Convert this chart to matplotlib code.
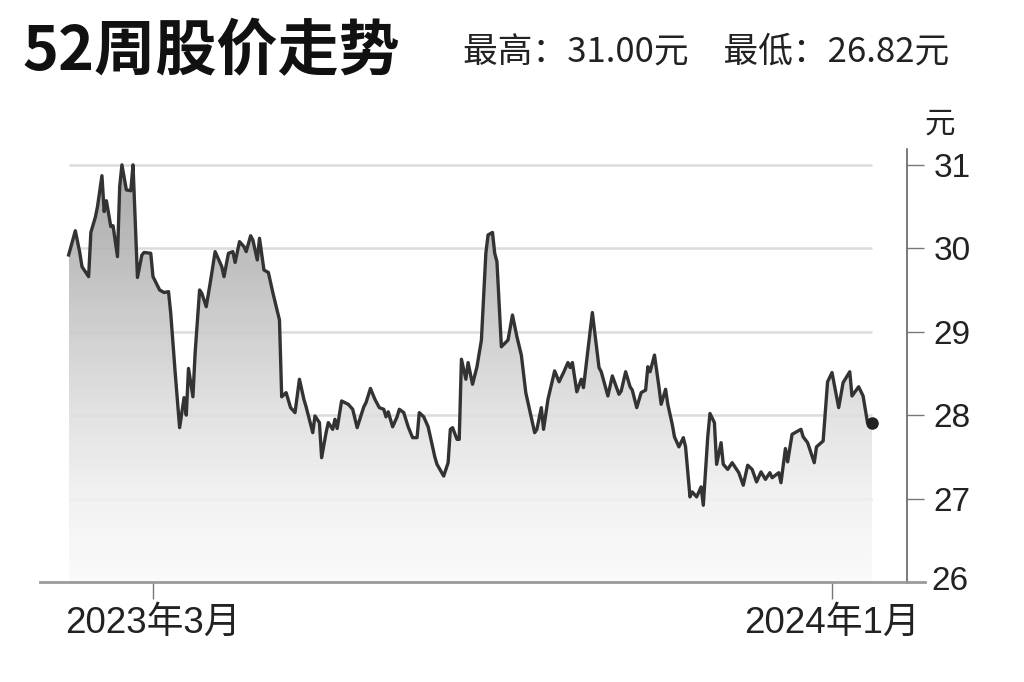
import numpy as np
import pandas as pd
import matplotlib
matplotlib.use('Agg')
import matplotlib.pyplot as plt
import matplotlib.dates as mdates
from matplotlib.colors import LinearSegmentedColormap
from matplotlib.lines import Line2D

## Fonts

plt.rcParams['font.family'] = ['Liberation Sans', 'Noto Sans CJK SC', 'DejaVu Sans']

## Data (daily closing price, yuan)

dates = [
    '2023-01-22', '2023-01-25', '2023-01-27', '2023-01-28', '2023-01-31', '2023-02-01', '2023-02-03', '2023-02-04', '2023-02-06', '2023-02-07',
    '2023-02-08', '2023-02-10', '2023-02-11', '2023-02-13', '2023-02-14', '2023-02-15', '2023-02-17', '2023-02-19', '2023-02-20', '2023-02-22',
    '2023-02-24', '2023-02-25', '2023-02-28', '2023-03-01', '2023-03-04', '2023-03-06', '2023-03-08', '2023-03-09', '2023-03-11', '2023-03-13',
    '2023-03-15', '2023-03-16', '2023-03-17', '2023-03-19', '2023-03-20', '2023-03-22', '2023-03-23', '2023-03-25', '2023-03-27', '2023-03-29',
    '2023-03-31', '2023-04-01', '2023-04-02', '2023-04-04', '2023-04-06', '2023-04-07', '2023-04-09', '2023-04-11', '2023-04-12', '2023-04-14',
    '2023-04-15', '2023-04-17', '2023-04-18', '2023-04-20', '2023-04-22', '2023-04-24', '2023-04-27', '2023-04-28', '2023-04-30', '2023-05-02',
    '2023-05-04', '2023-05-06', '2023-05-08', '2023-05-09', '2023-05-12', '2023-05-13', '2023-05-15', '2023-05-16', '2023-05-18', '2023-05-19',
    '2023-05-21', '2023-05-22', '2023-05-23', '2023-05-25', '2023-05-28', '2023-05-30', '2023-06-01', '2023-06-04', '2023-06-05', '2023-06-07',
    '2023-06-09', '2023-06-11', '2023-06-13', '2023-06-14', '2023-06-15', '2023-06-17', '2023-06-19', '2023-06-20', '2023-06-22', '2023-06-24',
    '2023-06-26', '2023-06-28', '2023-06-29', '2023-07-01', '2023-07-03', '2023-07-06', '2023-07-07', '2023-07-10', '2023-07-12', '2023-07-13',
    '2023-07-14', '2023-07-16', '2023-07-17', '2023-07-18', '2023-07-20', '2023-07-21', '2023-07-23', '2023-07-25', '2023-07-27', '2023-07-29',
    '2023-07-30', '2023-08-01', '2023-08-02', '2023-08-03', '2023-08-05', '2023-08-08', '2023-08-10', '2023-08-12', '2023-08-14', '2023-08-16',
    '2023-08-18', '2023-08-20', '2023-08-21', '2023-08-23', '2023-08-24', '2023-08-26', '2023-08-29', '2023-08-31', '2023-09-02', '2023-09-04',
    '2023-09-05', '2023-09-06', '2023-09-08', '2023-09-10', '2023-09-11', '2023-09-15', '2023-09-18', '2023-09-19', '2023-09-22', '2023-09-24',
    '2023-09-27', '2023-09-28', '2023-09-30', '2023-10-02', '2023-10-03', '2023-10-05', '2023-10-07', '2023-10-09', '2023-10-10', '2023-10-11',
    '2023-10-13', '2023-10-15', '2023-10-16', '2023-10-18', '2023-10-19', '2023-10-21', '2023-10-22', '2023-10-24', '2023-10-26', '2023-10-27',
    '2023-10-29', '2023-10-30', '2023-11-01', '2023-11-03', '2023-11-04', '2023-11-06', '2023-11-07', '2023-11-09', '2023-11-10', '2023-11-12',
    '2023-11-13', '2023-11-15', '2023-11-17', '2023-11-20', '2023-11-22', '2023-11-24', '2023-11-26', '2023-11-28', '2023-11-30', '2023-12-02',
    '2023-12-04', '2023-12-05', '2023-12-08', '2023-12-09', '2023-12-11', '2023-12-12', '2023-12-14', '2023-12-18', '2023-12-19', '2023-12-21',
    '2023-12-24', '2023-12-25', '2023-12-28', '2023-12-30', '2024-01-01', '2024-01-04', '2024-01-06', '2024-01-09', '2024-01-10', '2024-01-13',
    '2024-01-15', '2024-01-17', '2024-01-19',
]

prices = [
    29.92, 30.21, 29.95, 29.78, 29.66, 30.19, 30.37, 30.50, 30.87, 30.44,
    30.57, 30.26, 30.27, 29.90, 30.74, 31.00, 30.70, 30.69, 31.00, 29.65,
    29.92, 29.95, 29.94, 29.66, 29.50, 29.47, 29.48, 29.22, 28.51, 27.85,
    28.21, 28.00, 28.56, 28.22, 28.75, 29.50, 29.46, 29.30, 29.62, 29.96,
    29.84, 29.78, 29.66, 29.94, 29.96, 29.83, 30.08, 30.02, 29.96, 30.15,
    30.10, 29.86, 30.12, 29.74, 29.71, 29.47, 29.14, 28.22, 28.27, 28.09,
    28.03, 28.43, 28.19, 28.10, 27.79, 27.99, 27.91, 27.49, 27.79, 27.91,
    27.83, 27.95, 27.84, 28.17, 28.13, 28.07, 27.85, 28.10, 28.15, 28.32,
    28.19, 28.09, 28.07, 27.98, 28.04, 27.86, 27.98, 28.07, 28.03, 27.86,
    27.73, 27.73, 28.03, 27.98, 27.86, 27.50, 27.41, 27.27, 27.43, 27.83,
    27.85, 27.71, 27.71, 28.67, 28.43, 28.63, 28.37, 28.58, 28.90, 29.94,
    30.16, 30.19, 29.94, 29.84, 28.82, 28.90, 29.20, 28.94, 28.72, 28.27,
    28.03, 27.79, 27.83, 28.09, 27.83, 28.19, 28.53, 28.40, 28.51, 28.63,
    28.57, 28.63, 28.28, 28.43, 28.33, 29.23, 28.57, 28.52, 28.23, 28.47,
    28.25, 28.29, 28.52, 28.34, 28.30, 28.09, 28.27, 28.30, 28.58, 28.52,
    28.72, 28.34, 28.13, 28.31, 28.13, 27.89, 27.74, 27.62, 27.73, 27.62,
    27.02, 27.08, 27.02, 27.14, 26.92, 27.74, 28.02, 27.91, 27.41, 27.67,
    27.41, 27.35, 27.43, 27.31, 27.16, 27.40, 27.35, 27.20, 27.32, 27.23,
    27.31, 27.25, 27.31, 27.19, 27.60, 27.44, 27.77, 27.83, 27.74, 27.67,
    27.43, 27.62, 27.69, 28.40, 28.51, 28.09, 28.39, 28.52, 28.23, 28.34,
    28.23, 27.91, 27.90,
]

yticks = [26, 27, 28, 29, 30, 31]
xtick_dates = ['2023-03-01', '2024-01-01']
xtick_labels = ['2023年3月', '2024年1月']

title = '52周股价走势'
subtitle = '最高：31.00元　最低：26.82元'
unit = '元'

## Figure

d = mdates.date2num(pd.to_datetime(dates))
p = np.array(prices)

fig = plt.figure(figsize=(10.24, 6.82), dpi=100)
fig.patch.set_facecolor('white')
ax = fig.add_axes([40/1024, 1 - 582/682, 867/1024, 433/682])

ymin, ymax = 26, 31.19
x_left = mdates.date2num(pd.Timestamp('2023-01-09 02:00'))
x_right = mdates.date2num(pd.Timestamp('2024-02-03 19:00'))

## gridlines over the data range only
ax.hlines(yticks[1:], d[0], d[-1], colors='#dcdcdc', linewidth=1.8, zorder=1)

## gradient fill below the line
poly = ax.fill_between(d, p, ymin, color='none', linewidth=0, zorder=2)
cmap = LinearSegmentedColormap.from_list('g', ['#fbfbfb', '#f0f0f0', '#dedede', '#c8c8c8', '#b0b0b0', '#9c9c9c'])
grad = np.linspace(0, 1, 256).reshape(-1, 1)
im = ax.imshow(grad, extent=[d[0], d[-1], ymin, ymax], origin='lower', aspect='auto',
               cmap=cmap, alpha=0.88, zorder=2)
im.set_clip_path(poly.get_paths()[0], transform=ax.transData)

ax.plot(d, p, color='#333333', linewidth=2.4, solid_joinstyle='round', zorder=3)
ax.plot(d[-1], p[-1], 'o', color='#222222', markersize=8, zorder=4)

ax.set_xlim(x_left, x_right)
ax.set_ylim(ymin, ymax)

## axes styling
for s in ['top', 'left']:
    ax.spines[s].set_visible(False)
ax.spines['right'].set_color('#555555')
ax.spines['right'].set_linewidth(1.1)
ax.spines['bottom'].set_color('#9a9a9a')
ax.spines['bottom'].set_linewidth(2.0)
ax.add_line(Line2D([1, 1.021], [0, 0], transform=ax.transAxes, color='#9a9a9a',
                   linewidth=2.0, clip_on=False))

ax.yaxis.tick_right()
ax.set_yticks(yticks[1:])
ax.set_yticklabels([str(v) for v in yticks[1:]])
ax.tick_params(axis='y', length=12, width=1.0, color='#777777', pad=7,
               labelsize=24, labelcolor='#222222')
ax.text(1.028, 0, '26', transform=ax.transAxes, fontsize=24, color='#222222',
        ha='left', va='center')

ax.set_xticks(mdates.date2num(pd.to_datetime(xtick_dates)))
ax.set_xticklabels(xtick_labels)
ax.tick_params(axis='x', length=12, width=1.0, color='#777777', pad=5,
               labelsize=26.5, labelcolor='#222222')

## titles
fig.text(22/1024, 1 - 52/682, title, fontsize=44, fontweight='bold', color='#111111',
         family=['Noto Sans CJK SC'], ha='left', va='center')
fig.text(463/1024, 1 - 52/682, subtitle, fontsize=25, color='#222222',
         family=['Noto Sans CJK SC'], ha='left', va='center')
fig.text(940/1024, 1 - 124/682, unit, fontsize=22, color='#222222',
         family=['Noto Sans CJK SC'], ha='center', va='center')

fig.savefig('out.png', dpi=100)
